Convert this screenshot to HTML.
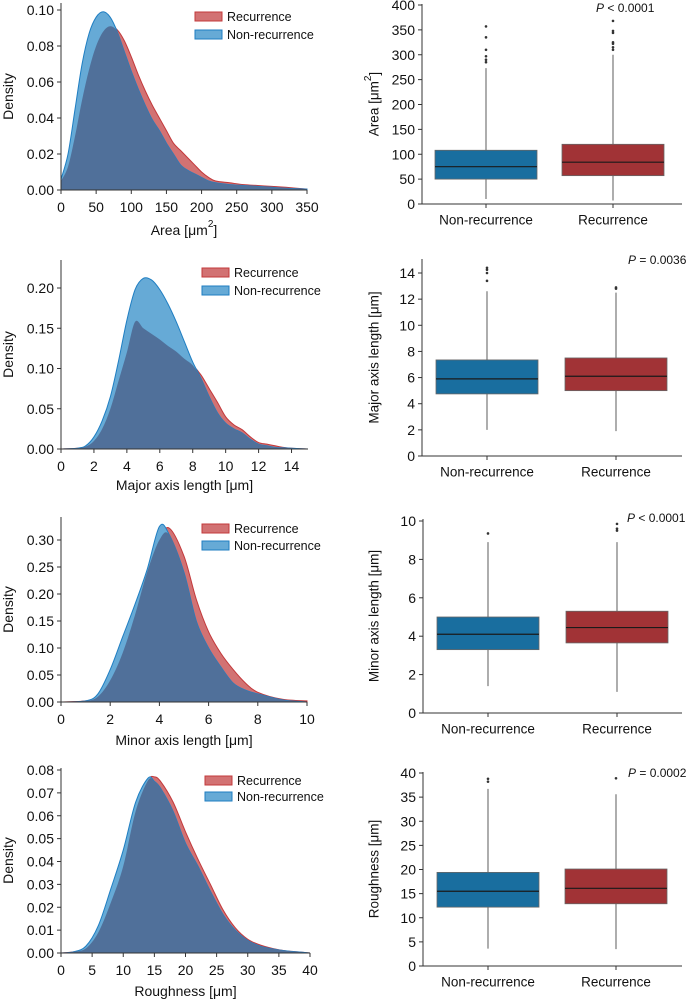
<!DOCTYPE html>
<html><head><meta charset="utf-8">
<style>
html,body{margin:0;padding:0;background:#fff;}
svg{display:block;font-family:"Liberation Sans",sans-serif;}
</style></head>
<body>
<svg id="fig" width="689" height="1001" viewBox="0 0 689 1001"></svg>
<script>
// ---------- KDE data ----------
const areaX = [0,10,20,30,40,50,60,70,80,90,100,110,120,130,140,150,160,170,180,190,200,210,220,240,260,280,300,320,350];
const areaNon = [0.006,0.02,0.045,0.07,0.087,0.096,0.099,0.096,0.088,0.077,0.066,0.056,0.047,0.039,0.033,0.026,0.02,0.014,0.011,0.009,0.007,0.005,0.004,0.003,0.0025,0.002,0.0015,0.001,0.0005];
const areaRec = [0.005,0.013,0.03,0.05,0.067,0.08,0.088,0.091,0.089,0.083,0.074,0.064,0.055,0.047,0.04,0.033,0.026,0.022,0.018,0.014,0.01,0.007,0.005,0.004,0.003,0.0025,0.002,0.0015,0.0005];
const areaTicksX = [0,50,100,150,200,250,300,350];
const areaTicksY = [0,0.02,0.04,0.06,0.08,0.10];

const majX = [0,1,1.5,2,2.5,3,3.5,4,4.5,5,5.5,6,6.5,7,7.5,8,8.5,9,9.5,10,10.5,11,11.5,12,12.5,13,13.5,14,15];
const majNon = [0,0.001,0.004,0.015,0.035,0.065,0.11,0.16,0.198,0.212,0.21,0.198,0.18,0.158,0.133,0.108,0.088,0.065,0.045,0.032,0.025,0.02,0.012,0.006,0.004,0.002,0.0015,0.001,0];
const majRec = [0,0.001,0.003,0.01,0.025,0.05,0.085,0.12,0.158,0.15,0.143,0.136,0.128,0.121,0.112,0.104,0.092,0.075,0.058,0.04,0.03,0.024,0.015,0.008,0.006,0.004,0.002,0.001,0];
const majTicksX = [0,2,4,6,8,10,12,14];
const majTicksY = [0,0.05,0.10,0.15,0.20];

const minX = [0,1,1.5,2,2.5,3,3.5,4,4.4,5,5.5,6,6.5,7,7.5,8,9,10];
const minNon = [0,0.002,0.015,0.06,0.12,0.18,0.245,0.325,0.31,0.24,0.15,0.1,0.065,0.035,0.022,0.015,0.004,0];
const minRec = [0,0.002,0.01,0.04,0.09,0.16,0.24,0.3,0.322,0.27,0.19,0.13,0.09,0.06,0.035,0.018,0.005,0.002];
const minTicksX = [0,2,4,6,8,10];
const minTicksY = [0,0.05,0.10,0.15,0.20,0.25,0.30];

const rouX = [0,2,4,6,8,10,12,14,15,16,18,20,22,24,26,28,30,32,34,36,38,40];
const rouNon = [0,0.0005,0.003,0.012,0.028,0.045,0.066,0.0765,0.075,0.072,0.062,0.048,0.038,0.027,0.017,0.01,0.0055,0.003,0.0018,0.001,0.0005,0];
const rouRec = [0,0.0005,0.002,0.009,0.022,0.038,0.062,0.0755,0.077,0.075,0.066,0.053,0.041,0.03,0.019,0.011,0.006,0.0035,0.002,0.001,0.0005,0];
const rouTicksX = [0,5,10,15,20,25,30,35,40];
const rouTicksY = [0,0.01,0.02,0.03,0.04,0.05,0.06,0.07,0.08];

// ---------- Box data: [whiskerLow, q1, median, q3, whiskerHigh] ----------
const areaBoxNon = [10,50,75,108,273];
const areaBoxRec = [7,57,84,120,300];
const areaOutNon = [285,290,297,310,335,357];
const areaOutRec = [310,315,322,325,344,348,368];
const areaBoxTicks = [0,50,100,150,200,250,300,350,400];

const majBoxNon = [2.0,4.75,5.9,7.35,12.6];
const majBoxRec = [1.9,5.0,6.1,7.5,12.5];
const majOutNon = [13.4,14.0,14.25,14.4];
const majOutRec = [12.8,12.9];
const majBoxTicks = [0,2,4,6,8,10,12,14];

const minBoxNon = [1.4,3.3,4.1,5.0,8.9];
const minBoxRec = [1.1,3.65,4.45,5.3,8.9];
const minOutNon = [9.35];
const minOutRec = [9.5,9.6,9.85];
const minBoxTicks = [0,2,4,6,8,10];

const rouBoxNon = [3.6,12.2,15.5,19.4,36.7];
const rouBoxRec = [3.5,12.9,16.1,20.1,35.6];
const rouOutNon = [38.2,38.8];
const rouOutRec = [38.9];
const rouBoxTicks = [0,5,10,15,20,25,30,35,40];

const categories = ["Non-recurrence","Recurrence"];

const NS = "http://www.w3.org/2000/svg";
const svg = document.getElementById('fig');
function mk(tag, attrs, parent){
  const e = document.createElementNS(NS, tag);
  for (const k in attrs) e.setAttribute(k, attrs[k]);
  (parent||svg).appendChild(e);
  return e;
}
function txt(s, x, y, size, anchor, parent, extra){
  const t = mk('text', Object.assign({x:x, y:y, 'font-size':size, 'text-anchor':anchor||'middle', 'dominant-baseline':'central', fill:'#111'}, extra||{}), parent);
  t.textContent = s;
  return t;
}
function curve(pts){
  let d = 'M' + pts[0][0] + ',' + pts[0][1];
  for (let i=0;i<pts.length-1;i++){
    const p0 = pts[Math.max(0,i-1)], p1 = pts[i], p2 = pts[i+1], p3 = pts[Math.min(pts.length-1,i+2)];
    const c1x = p1[0] + (p2[0]-p0[0])/6, c1y = p1[1] + (p2[1]-p0[1])/6;
    const c2x = p2[0] - (p3[0]-p1[0])/6, c2y = p2[1] - (p3[1]-p1[1])/6;
    d += ' C' + c1x + ',' + c1y + ' ' + c2x + ',' + c2y + ' ' + p2[0] + ',' + p2[1];
  }
  return d;
}
function fmt(v, dec){ return v.toFixed(dec); }

function kde(cfg){
  const g = mk('g', {});
  
  
  const x0 = 61, x1 = cfg.xEnd, y0 = cfg.yZero;
  const xs = v => x0 + (v - cfg.xMin) / (cfg.xMax - cfg.xMin) * (x1 - x0);
  const ys = v => y0 - v / cfg.yRef * (y0 - cfg.yRefPx);
  const path = arr => {
    const pts = cfg.xs.map((x,i)=>[xs(x), ys(arr[i])]);
    return curve(pts) + ' L' + xs(cfg.xs[cfg.xs.length-1]) + ',' + y0 + ' L' + xs(cfg.xs[0]) + ',' + y0 + ' Z';
  };
  const minArr = cfg.rec.map((v,i)=>Math.min(v, cfg.non[i]));
  const r = mk('path', {d: path(cfg.rec), fill:'#d27273', stroke:'#c3393b', 'stroke-width':1}, g);
  
  
  const b = mk('path', {d: path(cfg.non), fill:'#66aad6', stroke:'#1f7ec2', 'stroke-width':1}, g);
  
  
  const o = mk('path', {d: path(minArr), fill:'#50709a', stroke:'none'}, g);
  
  
  // axes
  const ax = mk('path', {d:'M'+x0+','+cfg.yTop+' V'+y0+' H'+x1, fill:'none', stroke:'#333', 'stroke-width':1}, g);
  
  
  cfg.ticksX.forEach(v=>{
    mk('line', {x1:xs(v), x2:xs(v), y1:y0, y2:y0+4, stroke:'#333'}, g);
    const t = txt(String(v), xs(v), y0+17, 14, 'middle', g);
    
    
  });
  cfg.ticksY.forEach(v=>{
    mk('line', {x1:x0-4, x2:x0, y1:ys(v), y2:ys(v), stroke:'#333'}, g);
    const t = txt(fmt(v, 2), x0-7, ys(v), 14, 'end', g);
    
    
  });
  const yt = txt('Density', 8, (cfg.yTop + y0)/2, 14, 'middle', g, {transform:'rotate(-90 8 '+((cfg.yTop + y0)/2)+')'});
  
  
  const xt = mk('text', {x:(x0+x1)/2, y:y0+cfg.titleOff, 'font-size':14, 'text-anchor':'middle', 'dominant-baseline':'central', fill:'#111'}, g);
  xt.innerHTML = cfg.xTitle;
  
  
  // legend
  const L = cfg.leg;
  const lg = mk('g', {}, g);
  
  
  const s1 = mk('rect', {x:L[0], y:L[1], width:27, height:9, fill:'#d27273', stroke:'#c3393b'}, lg);
  
  
  const l1 = txt('Recurrence', L[0]+32, L[1]+5, 12.5, 'start', lg);
  
  
  const s2 = mk('rect', {x:L[0], y:L[1]+L[2], width:27, height:9, fill:'#66aad6', stroke:'#1f7ec2'}, lg);
  
  
  const l2 = txt('Non-recurrence', L[0]+32, L[1]+L[2]+5, 12.5, 'start', lg);
  
  
}

function box(cfg){
  const g = mk('g', {});
  
  
  const x0 = cfg.ax, x1 = 682, y0 = cfg.yZero;
  const ys = v => y0 - v / cfg.yRef * (y0 - cfg.yRefPx);
  const centers = [cfg.c1, cfg.c2];
  const data = [[cfg.non, cfg.outNon, '#196e9f'], [cfg.rec, cfg.outRec, '#a13336']];
  data.forEach((d, i)=>{
    const c = centers[i], s = d[0], w = 51;
    const bg = mk('g', {}, g);
    
    
    mk('line', {x1:c, x2:c, y1:ys(s[0]), y2:ys(s[4]), stroke:'#777', 'stroke-width':1.2}, bg);
    mk('rect', {x:c-w, y:ys(s[3]), width:2*w, height:ys(s[1])-ys(s[3]), fill:d[2], stroke:'#666', 'stroke-width':0.8}, bg);
    mk('line', {x1:c-w, x2:c+w, y1:ys(s[2]), y2:ys(s[2]), stroke:'#1a1a1a', 'stroke-width':1.2}, bg);
    d[1].forEach(v=>{
      const p = mk('circle', {cx:c, cy:ys(v), r:1.3, fill:'#333'}, bg);
      
      
    });
    mk('line', {x1:c, x2:c, y1:y0, y2:y0+4, stroke:'#333'}, g);
    const t = txt(categories[i], c, y0+16, 13.5, 'middle', g);
    
    
  });
  const ax = mk('path', {d:'M'+x0+','+cfg.yTop+' V'+y0+' H'+x1, fill:'none', stroke:'#333', 'stroke-width':1}, g);
  
  
  cfg.ticks.forEach(v=>{
    mk('line', {x1:x0-4, x2:x0, y1:ys(v), y2:ys(v), stroke:'#333'}, g);
    const t = txt(String(v), x0-7, ys(v), 14, 'end', g);
    
    
  });
  const cy = (cfg.yTop + y0)/2;
  const yt = mk('text', {x:374, y:cy, 'font-size':13.5, 'text-anchor':'middle', 'dominant-baseline':'central', fill:'#111', transform:'rotate(-90 374 '+cy+')'}, g);
  yt.innerHTML = cfg.yTitle;
  
  
  const p = mk('text', {x:cfg.p[0], y:cfg.p[1], 'font-size':12, 'text-anchor':'start', 'dominant-baseline':'central', fill:'#111'}, g);
  p.innerHTML = '<tspan font-style="italic">P</tspan> ' + cfg.pText;
  
  
}

const um = '[<tspan>μ</tspan>m]';
kde({name:'area', xs:areaX, non:areaNon, rec:areaRec, xMin:0, xMax:350, xEnd:307, yZero:190, yRef:0.10, yRefPx:10, yTop:3, ticksX:areaTicksX, ticksY:areaTicksY, xTitle:'Area [μm<tspan dy="-6" font-size="10">2</tspan><tspan dy="6">]</tspan>', titleOff:40, leg:[195,12,18]});
kde({name:'major-axis', xs:majX, non:majNon, rec:majRec, xMin:0, xMax:15, xEnd:308, yZero:449, yRef:0.20, yRefPx:288, yTop:260, ticksX:majTicksX, ticksY:majTicksY, xTitle:'Major axis length [μm]', titleOff:36, leg:[202,268,18]});
kde({name:'minor-axis', xs:minX, non:minNon, rec:minRec, xMin:0, xMax:10, xEnd:307, yZero:702, yRef:0.30, yRefPx:540, yTop:517, ticksX:minTicksX, ticksY:minTicksY, xTitle:'Minor axis length [μm]', titleOff:38, leg:[202,524,17]});
kde({name:'roughness', xs:rouX, non:rouNon, rec:rouRec, xMin:0, xMax:40, xEnd:310, yZero:953, yRef:0.08, yRefPx:770, yTop:768, ticksX:rouTicksX, ticksY:rouTicksY, xTitle:'Roughness [μm]', titleOff:38, leg:[205,776,16]});

box({name:'area', ax:422, c1:486, c2:613, yZero:204, yRef:400, yRefPx:5, yTop:4, ticks:areaBoxTicks, non:areaBoxNon, rec:areaBoxRec, outNon:areaOutNon, outRec:areaOutRec, yTitle:'Area [μm<tspan dy="-6" font-size="10">2</tspan><tspan dy="6">]</tspan>', p:[596,8], pText:'&lt; 0.0001'});
box({name:'major-axis', ax:422, c1:487, c2:616, yZero:456, yRef:14, yRefPx:273, yTop:259, ticks:majBoxTicks, non:majBoxNon, rec:majBoxRec, outNon:majOutNon, outRec:majOutRec, yTitle:'Major axis length [μm]', p:[628,260], pText:'= 0.0036'});
box({name:'minor-axis', ax:423, c1:488, c2:617, yZero:713, yRef:10, yRefPx:521, yTop:519, ticks:minBoxTicks, non:minBoxNon, rec:minBoxRec, outNon:minOutNon, outRec:minOutRec, yTitle:'Minor axis length [μm]', p:[627,518], pText:'&lt; 0.0001'});
box({name:'roughness', ax:423, c1:488, c2:616, yZero:966, yRef:40, yRefPx:773, yTop:772, ticks:rouBoxTicks, non:rouBoxNon, rec:rouBoxRec, outNon:rouOutNon, outRec:rouOutRec, yTitle:'Roughness [μm]', p:[628,773], pText:'= 0.0002'});
</script>
</body></html>
